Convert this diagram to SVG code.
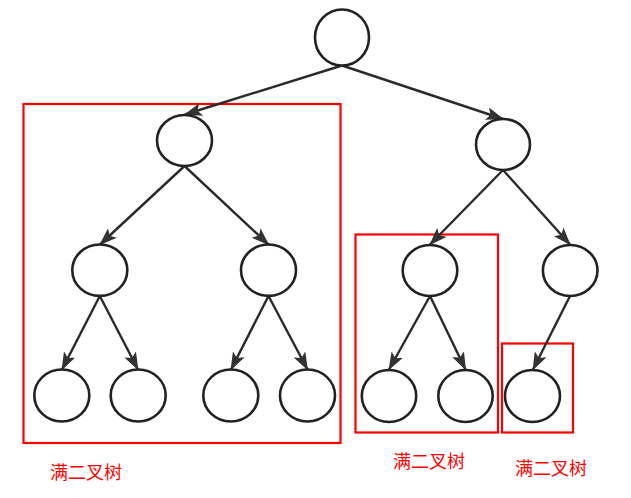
<svg xmlns="http://www.w3.org/2000/svg" width="631" height="498" viewBox="0 0 631 498">
<style>
.n{fill:#fff;stroke:#222;stroke-width:2.6}
.e{stroke:#2a2a2a;stroke-width:2.4;fill:none;marker-end:url(#arr)}
.b{fill:none;stroke:#ff0000;stroke-width:2.2}
.t{fill:#ff0000;font-family:"Noto Sans CJK SC",sans-serif;font-size:18px}
</style>
<defs>
<marker id="arr" markerUnits="userSpaceOnUse" viewBox="0 0 18 13" markerWidth="18" markerHeight="13" refX="17" refY="6.5" orient="auto">
<path d="M0,0 L18,6.5 L0,13 L4,6.5 z" fill="#333"/>
</marker>
</defs>
<rect width="631" height="498" fill="#fff"/>
<g id="boxes">
<rect class="b" x="23.5" y="104" width="317" height="339"/>
<rect class="b" x="355.5" y="234.5" width="142.5" height="198"/>
<rect class="b" x="502" y="343.5" width="71" height="89"/>
</g>
<g id="connectors">
<line class="e" x1="342" y1="65.5" x2="185" y2="114.5"/>
<line class="e" x1="342" y1="65.5" x2="503" y2="119"/>
<line class="e" x1="184.5" y1="166" x2="100" y2="244.5"/>
<line class="e" x1="184.5" y1="166" x2="268.5" y2="244.5"/>
<line class="e" x1="503" y1="170" x2="430" y2="244.5"/>
<line class="e" x1="503" y1="170" x2="570" y2="244.5"/>
<line class="e" x1="99.8" y1="296" x2="62" y2="369.5"/>
<line class="e" x1="99.8" y1="296" x2="138" y2="369.5"/>
<line class="e" x1="268.5" y1="296" x2="231" y2="369.5"/>
<line class="e" x1="268.5" y1="296" x2="307.5" y2="369.5"/>
<line class="e" x1="430" y1="296" x2="389" y2="369.5"/>
<line class="e" x1="430" y1="296" x2="465.5" y2="369.5"/>
<line class="e" x1="570" y1="296" x2="533" y2="369.5"/>
</g>
<g id="n1"><ellipse class="n" cx="342" cy="37.5" rx="27" ry="28"/></g>
<g id="n2"><ellipse class="n" cx="184.5" cy="140.5" rx="27.5" ry="25.5"/></g>
<g id="n3"><ellipse class="n" cx="503" cy="144.5" rx="27" ry="25.5"/></g>
<g id="n4"><ellipse class="n" cx="99.8" cy="270.2" rx="27.5" ry="25.7"/></g>
<g id="n5"><ellipse class="n" cx="268.5" cy="270.2" rx="27.5" ry="25.7"/></g>
<g id="n6"><ellipse class="n" cx="430" cy="270.5" rx="27.3" ry="25.5"/></g>
<g id="n7"><ellipse class="n" cx="570.2" cy="270.5" rx="27.3" ry="25.5"/></g>
<g id="n8"><ellipse class="n" cx="61.8" cy="395.5" rx="27.5" ry="26"/></g>
<g id="n9"><ellipse class="n" cx="138.2" cy="395.5" rx="27.5" ry="26"/></g>
<g id="n10"><ellipse class="n" cx="230.8" cy="395.5" rx="27.5" ry="26"/></g>
<g id="n11"><ellipse class="n" cx="307.5" cy="395.5" rx="27.5" ry="26"/></g>
<g id="n12"><ellipse class="n" cx="389" cy="396" rx="27.2" ry="26"/></g>
<g id="n13"><ellipse class="n" cx="465.5" cy="396" rx="27.2" ry="26"/></g>
<g id="n14"><ellipse class="n" cx="532.5" cy="396" rx="27.5" ry="26"/></g>
<g id="labels">
<text class="t" x="50" y="479">满二叉树</text>
<text class="t" x="393" y="468">满二叉树</text>
<text class="t" x="515" y="474.5">满二叉树</text>
</g>
</svg>
